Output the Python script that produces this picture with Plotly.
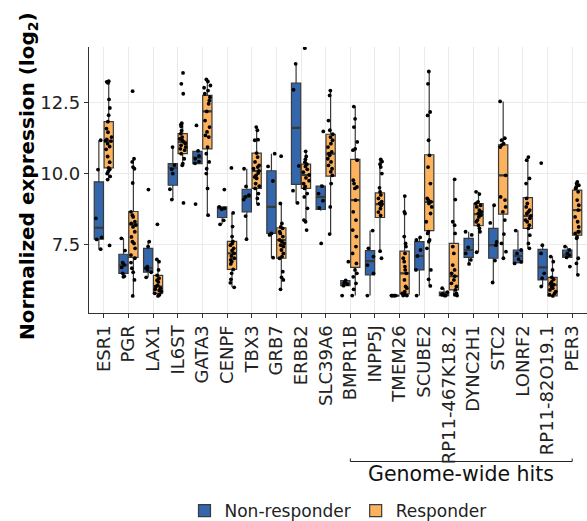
import plotly.graph_objects as go

genes = ["ESR1", "PGR", "LAX1", "IL6ST", "GATA3", "CENPF", "TBX3", "GRB7", "ERBB2", "SLC39A6",
         "BMPR1B", "INPP5J", "TMEM26", "SCUBE2", "RP11-467K18.2", "DYNC2H1", "STC2", "LONRF2",
         "RP11-82O19.1", "PER3"]

# Non-responder box statistics
nr_q1 = [7.70, 6.50, 6.54, 9.59, 10.35, 8.46, 8.66, 7.90, 9.62, 8.74, 6.07, 6.45, 5.72, 6.62, 5.72, 7.06, 7.03, 6.88, 6.27, 7.06]
nr_med = [8.10, 6.78, 6.69, 10.20, 10.56, 8.78, 9.18, 8.83, 11.60, 9.18, 6.15, 6.93, 5.72, 7.11, 5.78, 7.32, 7.49, 7.11, 6.71, 7.14]
nr_q3 = [9.71, 7.17, 7.38, 10.35, 10.78, 8.83, 9.45, 10.10, 13.17, 9.56, 6.25, 7.30, 5.72, 7.61, 5.84, 7.73, 8.08, 7.32, 7.34, 7.32]
nr_lo = [7.35, 6.38, 6.36, 9.09, 10.35, 8.22, 7.70, 7.05, 8.95, 8.70, 6.07, 5.72, 5.72, 5.72, 5.72, 6.83, 6.18, 6.85, 6.04, 7.00]
nr_hi = [11.17, 7.73, 7.61, 10.93, 10.80, 8.83, 10.17, 10.70, 13.85, 9.62, 6.25, 8.00, 5.72, 7.76, 5.98, 7.96, 8.89, 8.00, 7.49, 7.44]

# Responder box statistics
r_q1 = [10.20, 7.06, 5.80, 10.70, 10.87, 6.64, 9.48, 7.03, 9.48, 9.91, 6.71, 8.46, 5.78, 8.00, 5.92, 8.17, 8.58, 8.08, 5.71, 7.84]
r_med = [11.14, 8.22, 6.04, 11.11, 12.18, 7.20, 10.09, 7.67, 9.95, 10.70, 9.07, 8.93, 6.50, 9.01, 6.40, 8.58, 9.94, 8.52, 6.10, 8.72]
r_q3 = [11.82, 8.67, 6.43, 11.40, 12.74, 7.62, 10.72, 8.10, 10.33, 11.38, 10.50, 9.32, 7.28, 10.66, 7.55, 8.95, 11.01, 9.16, 6.36, 9.42]
r_lo = [9.79, 5.71, 5.71, 10.29, 8.54, 6.01, 8.93, 5.94, 8.31, 7.88, 5.72, 7.24, 5.72, 6.06, 5.72, 7.24, 7.03, 7.38, 5.71, 6.45]
r_hi = [13.24, 10.52, 6.99, 11.77, 13.30, 8.62, 11.63, 8.95, 10.78, 12.91, 12.35, 10.50, 9.21, 13.58, 9.80, 9.36, 12.53, 10.58, 7.09, 9.71]

# Individual samples, Non-responder (one list per gene, same order as genes)
nr_points = [
    [11.17, 10.14, 8.43, 7.76, 7.69, 7.35],
    [7.73, 7.30, 6.88, 6.80, 6.71, 6.50, 6.40, 6.38],
    [9.44, 7.61, 7.44, 6.74, 6.68, 6.62, 6.54, 6.36],
    [10.93, 10.30, 10.15, 10.00, 9.45, 9.09],
    [11.69, 10.80, 10.62, 10.52, 10.42, 10.36, 8.93],
    [9.44, 8.83, 8.78, 8.75, 8.36, 8.22],
    [10.17, 9.55, 9.24, 9.18, 9.09, 8.51, 7.70],
    [10.70, 10.25, 9.74, 7.90, 7.85, 7.05],
    [13.85, 12.94, 10.27, 9.40, 8.97],
    [11.48, 9.56, 9.30, 9.05, 8.80, 7.55],
    [6.91, 6.25, 6.18, 6.12, 6.07, 5.72],
    [8.00, 7.38, 7.09, 6.79, 6.50, 5.72],
    [5.72, 5.72, 5.72, 5.72, 5.72, 5.72],
    [7.76, 7.67, 7.32, 7.11, 6.62, 5.72],
    [5.98, 5.84, 5.78, 5.75, 5.72, 5.72],
    [7.96, 7.85, 7.41, 7.20, 6.97, 6.83],
    [8.89, 8.27, 7.60, 7.49, 6.95, 6.18],
    [8.00, 7.32, 7.20, 7.00, 6.90, 6.85],
    [10.37, 7.49, 7.20, 6.50, 6.33, 6.04],
    [7.44, 7.32, 7.20, 7.14, 7.06, 6.74],
]

# Individual samples, Responder
r_points = [
    [13.24, 13.22, 13.18, 12.60, 12.30, 12.05, 11.82, 11.58, 11.45, 11.28, 11.20, 11.15, 11.14,
     11.05, 10.95, 10.85, 10.60, 10.40, 10.20, 10.15, 10.08, 10.00, 9.90, 9.79, 7.48],
    [12.89, 10.52, 10.41, 10.23, 10.17, 9.67, 8.66, 8.54, 8.48, 8.31, 8.25, 8.19, 8.13, 7.96,
     7.78, 7.61, 7.55, 7.38, 7.14, 7.03, 6.88, 6.68, 6.54, 6.27, 5.71],
    [8.22, 6.99, 6.91, 6.62, 6.43, 6.33, 6.26, 6.20, 6.08, 6.04, 5.98, 5.94, 5.90, 5.87, 5.80, 5.75, 5.71],
    [13.53, 13.15, 12.80, 11.77, 11.72, 11.65, 11.51, 11.40, 11.28, 11.22, 11.17, 11.11, 11.05,
     10.99, 10.93, 10.87, 10.82, 10.70, 10.52, 10.35, 10.29, 8.97],
    [13.30, 13.23, 13.09, 13.01, 12.91, 12.80, 12.68, 12.56, 12.45, 12.18, 11.86, 11.63, 11.46,
     11.34, 11.28, 10.93, 10.70, 10.41, 10.17, 10.00, 9.48, 8.54],
    [10.20, 8.62, 8.14, 7.79, 7.62, 7.55, 7.49, 7.38, 7.30, 7.20, 7.11, 7.03, 6.97, 6.91, 6.83,
     6.64, 6.50, 6.29, 6.17, 6.01],
    [11.63, 11.52, 11.19, 11.17, 10.72, 10.58, 10.41, 10.29, 10.23, 10.17, 10.09, 10.02, 9.94,
     9.88, 9.83, 9.65, 9.56, 9.48, 9.30, 9.13, 8.93],
    [10.61, 8.95, 8.25, 8.13, 8.08, 7.96, 7.90, 7.79, 7.67, 7.61, 7.55, 7.49, 7.44, 7.32, 7.20,
     7.09, 7.03, 6.56, 6.36, 6.27, 5.94],
    [14.40, 10.78, 10.60, 10.50, 10.40, 10.33, 10.25, 10.15, 10.05, 9.95, 9.85, 9.75, 9.65, 9.55,
     9.48, 9.30, 9.18, 8.78, 8.37, 8.31, 8.02],
    [12.91, 12.74, 11.86, 11.52, 11.38, 11.28, 11.17, 11.05, 10.93, 10.76, 10.70, 10.64, 10.52,
     10.41, 10.29, 10.17, 10.06, 9.94, 9.65, 8.83, 7.88],
    [12.35, 11.92, 11.63, 11.11, 10.87, 10.82, 10.47, 9.77, 9.65, 9.53, 9.48, 9.07, 8.66, 8.37,
     8.02, 7.79, 7.44, 7.20, 6.85, 6.62, 6.50, 6.38, 6.15, 5.94, 5.72],
    [10.50, 10.42, 10.33, 10.23, 10.00, 9.50, 9.36, 9.25, 9.13, 9.02, 8.95, 8.93, 8.88, 8.77,
     8.65, 8.53, 7.28, 7.03],
    [9.21, 8.66, 8.60, 7.79, 7.55, 7.44, 7.20, 7.03, 6.91, 6.74, 6.62, 6.50, 6.27, 6.04, 5.98,
     5.86, 5.80, 5.75, 5.72, 5.72],
    [13.58, 13.15, 12.16, 12.04, 11.17, 10.64, 10.23, 9.65, 9.13, 9.07, 9.01, 8.95, 8.83, 8.60,
     8.31, 7.96, 7.90, 7.67, 7.61, 7.38, 6.62, 6.29, 6.06],
    [9.80, 9.09, 8.31, 8.19, 7.90, 7.44, 7.20, 6.79, 6.62, 6.50, 6.40, 6.27, 6.15, 6.04, 5.92,
     5.80, 5.75, 5.72],
    [9.36, 9.28, 9.01, 8.95, 8.89, 8.83, 8.72, 8.66, 8.60, 8.54, 8.48, 8.37, 8.31, 8.19, 8.08, 7.96, 7.24],
    [12.53, 11.24, 11.17, 11.05, 11.00, 10.93, 9.94, 9.18, 9.07, 8.83, 8.66, 8.37, 7.88, 7.55, 7.26, 7.03],
    [10.58, 10.47, 9.83, 9.65, 9.13, 8.95, 8.83, 8.72, 8.66, 8.60, 8.52, 8.43, 8.37, 8.31, 8.19,
     8.08, 7.84, 7.55, 7.38],
    [7.09, 6.91, 6.62, 6.36, 6.29, 6.20, 6.15, 6.10, 6.04, 5.98, 5.92, 5.86, 5.80, 5.75, 5.71],
    [9.71, 9.65, 9.59, 9.53, 9.48, 9.36, 9.07, 8.89, 8.72, 8.48, 8.31, 8.13, 7.96, 7.96, 7.90,
     7.78, 7.73, 7.03, 6.85, 6.45],
]

y_ticks = [7.5, 10.0, 12.5]
y_ticktext = ["7.5", "10.0", "12.5"]
bracket_start, bracket_end = "BMPR1B", "PER3"
bracket_label = "Genome-wide hits"

NR_COLOR = "#3366AB"
R_COLOR = "#FDB35E"
EDGE = "#3a3a3a"
FONT = "DejaVu Sans"
TICK_SIZE = 18
H = 521
PLOT_TOP, PLOT_BOTTOM = 47, 313

fig = go.Figure()


def add_group(name, color, grp, q1, med, q3, lo, hi, pts):
    # box + whiskers
    fig.add_trace(go.Box(
        x=genes, q1=q1, median=med, q3=q3, lowerfence=lo, upperfence=hi,
        name=name, fillcolor=color, line=dict(color=EDGE, width=1.2),
        whiskerwidth=0, boxpoints=False, offsetgroup=grp, legendgroup=grp,
        showlegend=True, hoverinfo="skip"))
    # thicker median bar (ggplot draws the median twice as thick)
    fig.add_trace(go.Box(
        x=genes, q1=med, median=med, q3=med, lowerfence=med, upperfence=med,
        name=name, fillcolor="rgba(0,0,0,0)", line=dict(color=EDGE, width=2.2),
        whiskerwidth=0, boxpoints=False, offsetgroup=grp, legendgroup=grp,
        showlegend=False, hoverinfo="skip"))
    # jittered samples
    xs, ys = [], []
    for g, p in zip(genes, pts):
        xs += [g] * len(p)
        ys += p
    fig.add_trace(go.Box(
        x=xs, y=ys, name=name, boxpoints="all", jitter=0.75, pointpos=0,
        fillcolor="rgba(0,0,0,0)", line=dict(color="rgba(0,0,0,0)", width=0),
        whiskerwidth=0, marker=dict(color="black", size=3.8),
        offsetgroup=grp, legendgroup=grp, showlegend=False))


add_group("Non-responder", NR_COLOR, "nr", nr_q1, nr_med, nr_q3, nr_lo, nr_hi, nr_points)
add_group("Responder", R_COLOR, "r", r_q1, r_med, r_q3, r_lo, r_hi, r_points)

ph = PLOT_BOTTOM - PLOT_TOP


def py(pix):
    # pixel row in the page -> paper y fraction
    return (PLOT_BOTTOM - pix) / ph


# bracket for genome-wide hits
yb = py(461.5)
tick_h = 3.0 / ph
fig.add_shape(type="line", xref="x", yref="paper", x0=bracket_start, x1=bracket_end,
              y0=yb, y1=yb, line=dict(color="#222", width=1))
for g in (bracket_start, bracket_end):
    fig.add_shape(type="line", xref="x", yref="paper", x0=g, x1=g,
                  y0=yb, y1=yb + tick_h, line=dict(color="#222", width=1))
i0, i1 = genes.index(bracket_start), genes.index(bracket_end)
fig.add_annotation(x=(i0 + i1) / 2, xref="x", y=py(474), yref="paper", text=bracket_label,
                   showarrow=False, yanchor="middle", xanchor="center",
                   font=dict(family=FONT, size=20.5, color="#111"))

# y axis title
fig.add_annotation(x=-0.1225, xref="paper", y=py(176), yref="paper",
                   text="<b>Normalized expression (log<sub>2</sub>)</b>",
                   textangle=-90, showarrow=False, xanchor="center", yanchor="middle",
                   font=dict(family=FONT, size=20, color="black"))

fig.update_layout(
    width=587, height=H,
    margin=dict(l=89, r=0, t=PLOT_TOP, b=H - PLOT_BOTTOM, autoexpand=False),
    paper_bgcolor="white", plot_bgcolor="white",
    boxmode="group", boxgap=0.2, boxgroupgap=0.06,
    font=dict(family=FONT, size=17, color="#222"),
    showlegend=True,
    legend=dict(orientation="h", x=0.5, xanchor="center", y=py(511), yanchor="middle",
                font=dict(family=FONT, size=17, color="#222"), itemwidth=30,
                bgcolor="rgba(0,0,0,0)", traceorder="normal"),
    xaxis=dict(type="category", categoryorder="array", categoryarray=genes,
               range=[-0.6, len(genes) - 0.4], tickangle=-90, automargin=False,
               showgrid=True, gridcolor="#EBEBEB", gridwidth=1,
               showline=True, linecolor="#333", linewidth=1.2,
               ticks="outside", ticklen=4, tickcolor="#333",
               tickfont=dict(family=FONT, size=TICK_SIZE, color="#222"), zeroline=False),
    yaxis=dict(range=[5.11, 14.44], tickvals=y_ticks, ticktext=y_ticktext, automargin=False,
               showgrid=True, gridcolor="#EBEBEB", gridwidth=1,
               showline=True, linecolor="#333", linewidth=1.2,
               ticks="outside", ticklen=4, tickcolor="#333",
               tickfont=dict(family=FONT, size=TICK_SIZE, color="#222"), zeroline=False),
)

fig.write_html("out.html")
